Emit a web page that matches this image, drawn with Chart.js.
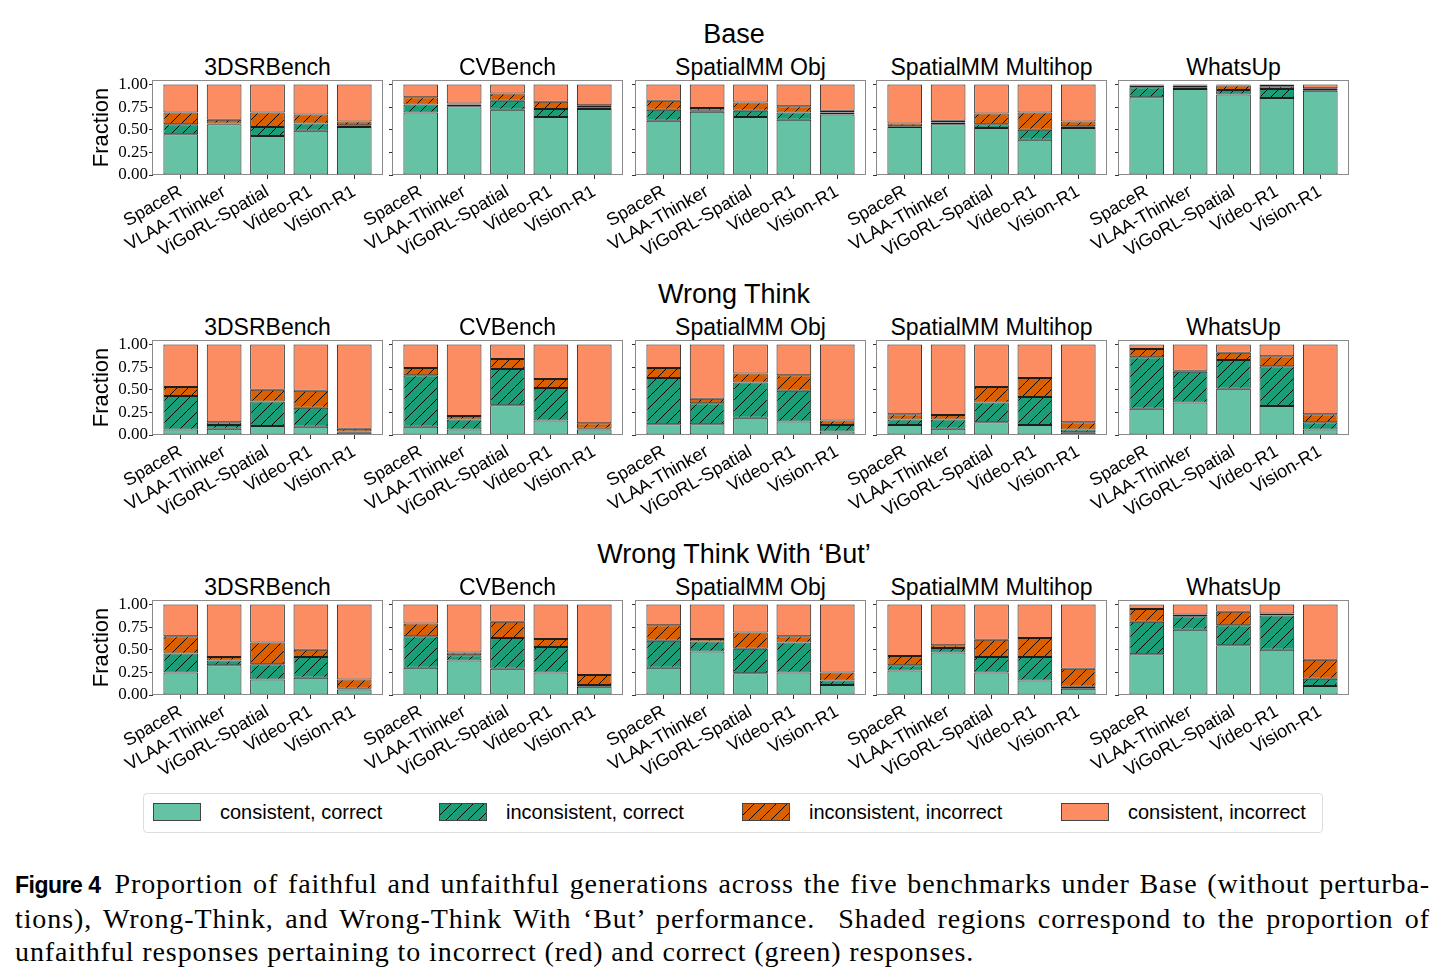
<!DOCTYPE html>
<html>
<head>
<meta charset="utf-8">
<script src="https://cdn.jsdelivr.net/npm/chart.js@4.4.1/dist/chart.umd.min.js"></script>
<style>
  body { margin: 0; background: #fff; }
  #fig { position: relative; width: 1447px; height: 979px; overflow: hidden; font-family: 'Liberation Sans', sans-serif; color: #000; }
  canvas.panel { position: absolute; }
  .sub { position: absolute; text-align: center; font-size: 23px; line-height: 24px; white-space: nowrap; }
  .rowtitle { position: absolute; left: 0; width: 1468px; text-align: center; font-size: 27px; line-height: 30px; }
  #legend { position: absolute; left: 143px; top: 793px; width: 1180px; height: 40px; border: 1px solid #ddd; border-radius: 4px; box-sizing: border-box; }
  .sw { position: absolute; top: 9px; width: 48px; height: 18px; border: 1px solid #444; box-sizing: border-box; }
  .lt { position: absolute; top: 7px; font-size: 20px; line-height: 22px; white-space: nowrap; }
  #caption { position: absolute; left: 15px; top: 867px; width: 1415px; font-family: 'Liberation Serif', serif; font-size: 28px; line-height: 33px; letter-spacing: 0.9px; }
  #caption span.l { display: block; text-align: justify; text-align-last: justify; }
  #caption span.last { display: block; text-align: left; }
  #caption b { display: inline-block; font-family: 'Liberation Sans', sans-serif; font-size: 23px; letter-spacing: -0.5px; margin-right: 14px; }
</style>
</head>
<body>
<div id="fig"></div>
<script>
const models = ['SpaceR', 'VLAA-Thinker', 'ViGoRL-Spatial', 'Video-R1', 'Vision-R1'];
const benchmarks = ['3DSRBench', 'CVBench', 'SpatialMM Obj', 'SpatialMM Multihop', 'WhatsUp'];
const settings = ['Base', 'Wrong Think', 'Wrong Think With ‘But’'];
const seriesNames = ['consistent, correct', 'inconsistent, correct', 'inconsistent, incorrect', 'consistent, incorrect'];
const yTicks = [0, 0.25, 0.5, 0.75, 1.0];

// one row per benchmark, one value per model (fraction of each segment)
const baseConsCorrect = [
  [0.45, 0.56, 0.43, 0.49, 0.53],
  [0.69, 0.76, 0.72, 0.64, 0.73],
  [0.60, 0.70, 0.64, 0.61, 0.67],
  [0.53, 0.56, 0.52, 0.39, 0.52],
  [0.86, 0.95, 0.89, 0.85, 0.93]
];
const baseInconsCorrect = [
  [0.11, 0.01, 0.10, 0.08, 0.02],
  [0.09, 0.02, 0.10, 0.09, 0.02],
  [0.12, 0.01, 0.07, 0.08, 0.02],
  [0.01, 0.02, 0.04, 0.11, 0.02],
  [0.11, 0.02, 0.05, 0.10, 0.01]
];
const baseInconsIncorrect = [
  [0.13, 0.04, 0.16, 0.10, 0.04],
  [0.08, 0.01, 0.08, 0.08, 0.02],
  [0.10, 0.03, 0.09, 0.07, 0.02],
  [0.03, 0.02, 0.12, 0.19, 0.05],
  [0.02, 0.02, 0.05, 0.03, 0.02]
];
const baseConsIncorrect = [
  [0.31, 0.39, 0.31, 0.33, 0.41],
  [0.14, 0.21, 0.10, 0.19, 0.23],
  [0.18, 0.26, 0.20, 0.24, 0.29],
  [0.43, 0.40, 0.32, 0.31, 0.41],
  [0.01, 0.01, 0.01, 0.02, 0.04]
];

const wtConsCorrect = [
  [0.06, 0.07, 0.10, 0.09, 0.03],
  [0.09, 0.06, 0.33, 0.16, 0.06],
  [0.12, 0.12, 0.19, 0.15, 0.04],
  [0.11, 0.07, 0.14, 0.11, 0.03],
  [0.29, 0.36, 0.51, 0.32, 0.06]
];
const wtInconsCorrect = [
  [0.37, 0.04, 0.27, 0.21, 0.01],
  [0.57, 0.11, 0.40, 0.36, 0.01],
  [0.51, 0.23, 0.39, 0.34, 0.07],
  [0.06, 0.10, 0.22, 0.31, 0.03],
  [0.57, 0.34, 0.32, 0.44, 0.08]
];
const wtInconsIncorrect = [
  [0.10, 0.03, 0.13, 0.19, 0.03],
  [0.08, 0.04, 0.11, 0.10, 0.06],
  [0.11, 0.05, 0.10, 0.17, 0.05],
  [0.06, 0.05, 0.17, 0.21, 0.08],
  [0.09, 0.01, 0.08, 0.11, 0.09]
];
const wtConsIncorrect = [
  [0.47, 0.86, 0.50, 0.51, 0.93],
  [0.26, 0.79, 0.16, 0.38, 0.87],
  [0.26, 0.60, 0.32, 0.34, 0.84],
  [0.77, 0.78, 0.47, 0.37, 0.86],
  [0.05, 0.29, 0.09, 0.13, 0.77]
];

const butConsCorrect = [
  [0.25, 0.33, 0.17, 0.19, 0.06],
  [0.30, 0.38, 0.29, 0.25, 0.09],
  [0.30, 0.48, 0.24, 0.25, 0.11],
  [0.27, 0.47, 0.25, 0.16, 0.07],
  [0.45, 0.72, 0.55, 0.50, 0.10]
];
const butInconsCorrect = [
  [0.21, 0.05, 0.17, 0.23, 0.01],
  [0.35, 0.06, 0.34, 0.28, 0.02],
  [0.30, 0.11, 0.27, 0.33, 0.05],
  [0.06, 0.05, 0.17, 0.26, 0.02],
  [0.36, 0.15, 0.22, 0.38, 0.08]
];
const butInconsIncorrect = [
  [0.19, 0.04, 0.24, 0.08, 0.10],
  [0.14, 0.03, 0.18, 0.09, 0.11],
  [0.17, 0.03, 0.18, 0.07, 0.09],
  [0.10, 0.03, 0.19, 0.21, 0.20],
  [0.14, 0.02, 0.15, 0.02, 0.21]
];
const butConsIncorrect = [
  [0.35, 0.58, 0.42, 0.50, 0.83],
  [0.21, 0.53, 0.19, 0.38, 0.78],
  [0.23, 0.38, 0.31, 0.35, 0.75],
  [0.57, 0.45, 0.39, 0.37, 0.71],
  [0.05, 0.11, 0.08, 0.10, 0.61]
];

const settingData = [
  [baseConsCorrect, baseInconsCorrect, baseInconsIncorrect, baseConsIncorrect],
  [wtConsCorrect, wtInconsCorrect, wtInconsIncorrect, wtConsIncorrect],
  [butConsCorrect, butInconsCorrect, butInconsIncorrect, butConsIncorrect]
];

// layout of the 3 x 5 grid
const colLeft = [153, 393, 636, 877, 1119];
const plotW = 229;
const rowTop = [80, 340, 600];
const plotH = 95;
const rowTitleTop = [19, 279, 539];

const colors = ['#66c2a5', '#1b9e77', '#d95f02', '#fc8d62'];
const hatched = [false, true, true, false];

function hatchCanvas(color) {
  const s = 11;
  const c = document.createElement('canvas');
  c.width = s; c.height = s;
  const g = c.getContext('2d');
  g.fillStyle = color;
  g.fillRect(0, 0, s, s);
  g.strokeStyle = '#000';
  g.lineWidth = 1;
  g.beginPath();
  g.moveTo(0, s); g.lineTo(s, 0);
  g.moveTo(-1, 1); g.lineTo(1, -1);
  g.moveTo(s - 1, s + 1); g.lineTo(s + 1, s - 1);
  g.stroke();
  return c;
}

const fig = document.getElementById('fig');
const probe = document.createElement('canvas').getContext('2d');
const fills = colors.map((c, i) => hatched[i] ? probe.createPattern(hatchCanvas(c), 'repeat') : c);

const framePlugin = {
  id: 'frame',
  afterDraw(chart) {
    const a = chart.chartArea;
    const ctx = chart.ctx;
    ctx.save();
    ctx.strokeStyle = '#8a8a8a';
    ctx.lineWidth = 1;
    ctx.strokeRect(Math.round(a.left) - 0.5, Math.round(a.top) + 0.5, Math.round(a.right - a.left) + 1, Math.round(a.bottom - a.top) - 1);
    ctx.restore();
  }
};

function addText(cls, text, style) {
  const d = document.createElement('div');
  d.className = cls;
  d.textContent = text;
  Object.assign(d.style, style);
  fig.appendChild(d);
}

settings.forEach((setting, r) => {
  addText('rowtitle', setting, { top: rowTitleTop[r] + 'px' });
  benchmarks.forEach((bench, c) => {
    addText('sub', bench, { left: colLeft[c] + 'px', width: plotW + 'px', top: (rowTop[r] - 25) + 'px' });

    const leftRegion = c === 0 ? 70 : 50;
    const yWidth = c === 0 ? 70 : 6;
    const padTop = 12, padRight = 12, xHeight = 95;
    const cv = document.createElement('canvas');
    cv.className = 'panel';
    cv.width = leftRegion + plotW + padRight;
    cv.height = padTop + plotH + xHeight;
    cv.style.left = (colLeft[c] - leftRegion) + 'px';
    cv.style.top = (rowTop[r] - padTop) + 'px';
    cv.style.width = cv.width + 'px';
    cv.style.height = cv.height + 'px';
    fig.appendChild(cv);

    const datasets = seriesNames.map((name, k) => ({
      label: name,
      data: settingData[r][k][c].map((v, i) => ({ x: i, y: v })),
      backgroundColor: fills[k],
      borderColor: '#1e1e1e',
      borderWidth: 1,
      borderSkipped: false,
      barPercentage: 0.8,
      categoryPercentage: 1.0
    }));

    new Chart(cv, {
      type: 'bar',
      data: { datasets },
      options: {
        responsive: false,
        animation: false,
        events: [],
        layout: { padding: { left: leftRegion - yWidth, top: padTop, right: padRight, bottom: 0 } },
        plugins: { legend: { display: false }, tooltip: { enabled: false } },
        scales: {
          x: {
            type: 'linear',
            stacked: true,
            offset: false,
            min: -0.64,
            max: 4.64,
            afterBuildTicks: (axis) => { axis.ticks = models.map((m, i) => ({ value: i })); },
            afterFit: (axis) => {
              axis.height = xHeight;
              axis.paddingLeft = 0; axis.paddingRight = 0; axis.paddingTop = 0; axis.paddingBottom = 0;
            },
            border: { display: false },
            grid: { offset: false, drawOnChartArea: false, drawTicks: true, tickLength: 4, color: '#333' },
            ticks: {
              autoSkip: false,
              minRotation: 30,
              maxRotation: 30,
              padding: 2,
              color: '#000',
              font: { family: 'Liberation Sans', size: 18 },
              callback: (v) => models[v]
            }
          },
          y: {
            stacked: true,
            min: 0,
            max: 1.05,
            afterBuildTicks: (axis) => { axis.ticks = yTicks.map(v => ({ value: v })); },
            afterFit: (axis) => {
              axis.width = yWidth;
              axis.paddingLeft = 0; axis.paddingRight = 0; axis.paddingTop = 0; axis.paddingBottom = 0;
            },
            border: { display: false },
            grid: { drawOnChartArea: false, drawTicks: true, tickLength: 4, color: '#333' },
            title: {
              display: c === 0,
              text: 'Fraction',
              color: '#000',
              font: { family: 'Liberation Sans', size: 22 },
              padding: { top: 6, bottom: 0 }
            },
            ticks: {
              padding: 1,
              color: '#000',
              font: { family: 'Liberation Serif', size: 17 },
              callback: (v) => c === 0 ? v.toFixed(2) : ''
            }
          }
        }
      },
      plugins: [framePlugin]
    });
  });
});

// legend
const legend = document.createElement('div');
legend.id = 'legend';
fig.appendChild(legend);
const swLeft = [9, 295, 598, 917];
seriesNames.forEach((name, k) => {
  const sw = document.createElement('div');
  sw.className = 'sw';
  sw.style.left = swLeft[k] + 'px';
  if (hatched[k]) {
    sw.style.backgroundImage = 'url(' + hatchCanvas(colors[k]).toDataURL() + ')';
  } else {
    sw.style.background = colors[k];
  }
  legend.appendChild(sw);
  const t = document.createElement('div');
  t.className = 'lt';
  t.style.left = (swLeft[k] + 67) + 'px';
  t.textContent = name;
  legend.appendChild(t);
});

// caption
const cap = document.createElement('div');
cap.id = 'caption';
cap.innerHTML =
  '<span class="l"><b>Figure 4</b>Proportion of faithful and unfaithful generations across the five benchmarks under Base (without perturba-</span>' +
  '<span class="l">tions), Wrong-Think, and Wrong-Think With ‘But’ performance.&nbsp; Shaded regions correspond to the proportion of</span>' +
  '<span class="last">unfaithful responses pertaining to incorrect (red) and correct (green) responses.</span>';
fig.appendChild(cap);
</script>
</body>
</html>
